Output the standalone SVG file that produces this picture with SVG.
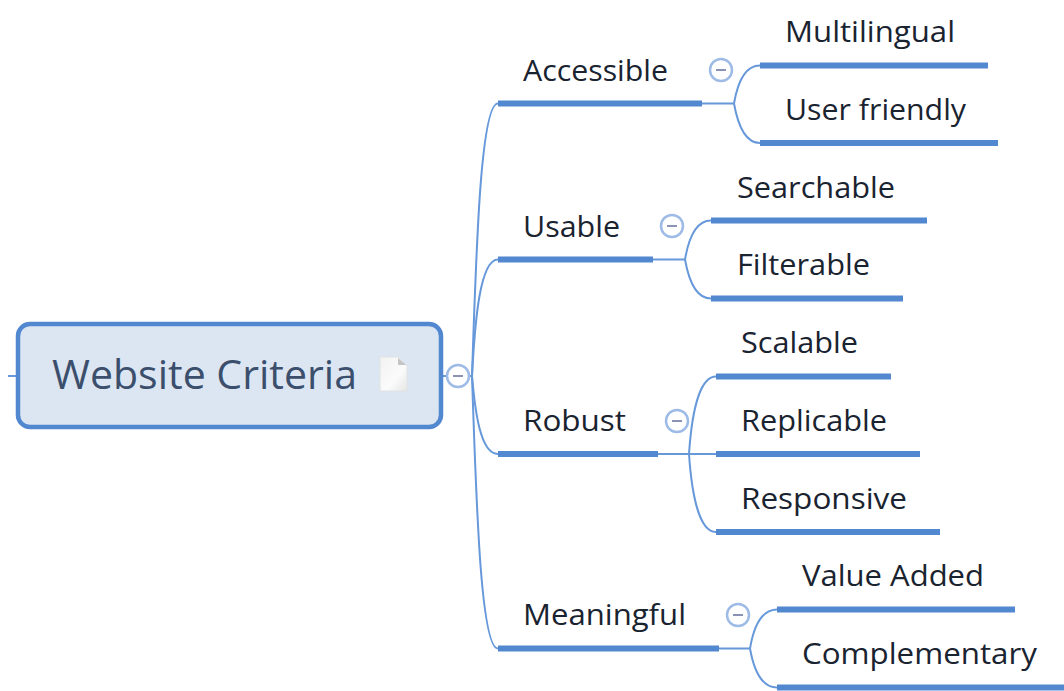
<svg xmlns="http://www.w3.org/2000/svg" width="1064" height="691" viewBox="0 0 1064 691">
<style>
text{font-family:"Open Sans","Noto Sans","Liberation Sans",sans-serif;font-size:30px;fill:#1a2330}
.bar{stroke:#5288d0;stroke-width:6;fill:none}
.thin{stroke:#6698da;stroke-width:2;fill:none}
.btn circle{fill:#fff;stroke:#9dbbe6;stroke-width:2.500}
.btn line{stroke:#8a93b5;stroke-width:2}
</style>
<defs>
<linearGradient id="doc" x1="0" y1="0" x2="1" y2="1"><stop offset="0" stop-color="#f2f2f2"/><stop offset="0.6" stop-color="#fbfbfb"/><stop offset="1" stop-color="#e6e6e6"/></linearGradient>
</defs>
<rect width="1064" height="691" fill="#fff"/>
<g id="connectors">
<path class="thin" d="M8 376H18M441 376H472"/>
<path class="thin" d="M472 376C476 260 480 103.500 498 103.500"/>
<path class="thin" d="M472 376C475 320 480 259.500 498 259.500"/>
<path class="thin" d="M472 376C475 410 480 454 498 454"/>
<path class="thin" d="M472 376C476 490 480 648.500 498 648.500"/>
<path class="thin" d="M700 103.500H734M734 103.500C738 80 746 65.500 760 65.500M734 103.500C738 126 746 143 760 143"/>
<path class="thin" d="M651 259.500H685M685 259.500C689 236 697 220.500 711 220.500M685 259.500C689 282 697 298.500 711 298.500"/>
<path class="thin" d="M656 454H716M689 454C692 410 700 376.500 716 376.500M689 454C692 498 700 532 716 532"/>
<path class="thin" d="M717 648.500H750M750 648.500C754 625 762 609.500 777 609.500M750 648.500C754 671 762 687.500 777 687.500"/>
</g>
<g id="root">
<rect x="18" y="324" width="423" height="103" rx="12" fill="#dce6f2" stroke="#5288d0" stroke-width="4.500"/>
<text x="52" y="389" style="font-size:40px;fill:#3b4f6d" textLength="305" lengthAdjust="spacingAndGlyphs">Website Criteria</text>
<path d="M380 357H398L407 366V391H380Z" fill="url(#doc)" stroke="#e2e2e2" stroke-width="1"/>
<path d="M398 358V365H406Z" fill="#c4c4c4"/>
<g class="btn"><circle cx="458" cy="376" r="11"/><line x1="453" y1="376" x2="463" y2="376"/></g>
</g>
<g id="accessible">
<text x="523" y="81" textLength="145" lengthAdjust="spacingAndGlyphs">Accessible</text>
<line class="bar" x1="498" y1="103.500" x2="702" y2="103.500"/>
<g class="btn"><circle cx="721" cy="70" r="11"/><line x1="716" y1="70" x2="726" y2="70"/></g>
</g>
<g id="multilingual"><text x="785" y="42" textLength="170" lengthAdjust="spacingAndGlyphs">Multilingual</text><line class="bar" x1="760" y1="65.500" x2="988" y2="65.500"/></g>
<g id="user-friendly"><text x="785" y="120" textLength="181" lengthAdjust="spacingAndGlyphs">User friendly</text><line class="bar" x1="760" y1="143" x2="998" y2="143"/></g>
<g id="usable">
<text x="523" y="237" textLength="97" lengthAdjust="spacingAndGlyphs">Usable</text>
<line class="bar" x1="498" y1="259.500" x2="653" y2="259.500"/>
<g class="btn"><circle cx="672" cy="226" r="11"/><line x1="667" y1="226" x2="677" y2="226"/></g>
</g>
<g id="searchable"><text x="737" y="198" textLength="158" lengthAdjust="spacingAndGlyphs">Searchable</text><line class="bar" x1="711" y1="220.500" x2="927" y2="220.500"/></g>
<g id="filterable"><text x="737" y="275" textLength="133" lengthAdjust="spacingAndGlyphs">Filterable</text><line class="bar" x1="711" y1="298.500" x2="903" y2="298.500"/></g>
<g id="robust">
<text x="523" y="431" textLength="103" lengthAdjust="spacingAndGlyphs">Robust</text>
<line class="bar" x1="498" y1="454" x2="658" y2="454"/>
<g class="btn"><circle cx="677" cy="421" r="11"/><line x1="672" y1="421" x2="682" y2="421"/></g>
</g>
<g id="scalable"><text x="741" y="353" textLength="117" lengthAdjust="spacingAndGlyphs">Scalable</text><line class="bar" x1="716" y1="376.500" x2="891" y2="376.500"/></g>
<g id="replicable"><text x="741" y="431" textLength="146" lengthAdjust="spacingAndGlyphs">Replicable</text><line class="bar" x1="716" y1="454" x2="920" y2="454"/></g>
<g id="responsive"><text x="741" y="509" textLength="166" lengthAdjust="spacingAndGlyphs">Responsive</text><line class="bar" x1="716" y1="532" x2="940" y2="532"/></g>
<g id="meaningful">
<text x="523" y="625" textLength="163" lengthAdjust="spacingAndGlyphs">Meaningful</text>
<line class="bar" x1="498" y1="648.500" x2="719" y2="648.500"/>
<g class="btn"><circle cx="738" cy="615" r="11"/><line x1="733" y1="615" x2="743" y2="615"/></g>
</g>
<g id="value-added"><text x="802" y="586" textLength="182" lengthAdjust="spacingAndGlyphs">Value Added</text><line class="bar" x1="777" y1="609.500" x2="1015" y2="609.500"/></g>
<g id="complementary"><text x="802" y="664" textLength="235" lengthAdjust="spacingAndGlyphs">Complementary</text><line class="bar" x1="777" y1="687.500" x2="1064" y2="687.500"/></g>
</svg>
